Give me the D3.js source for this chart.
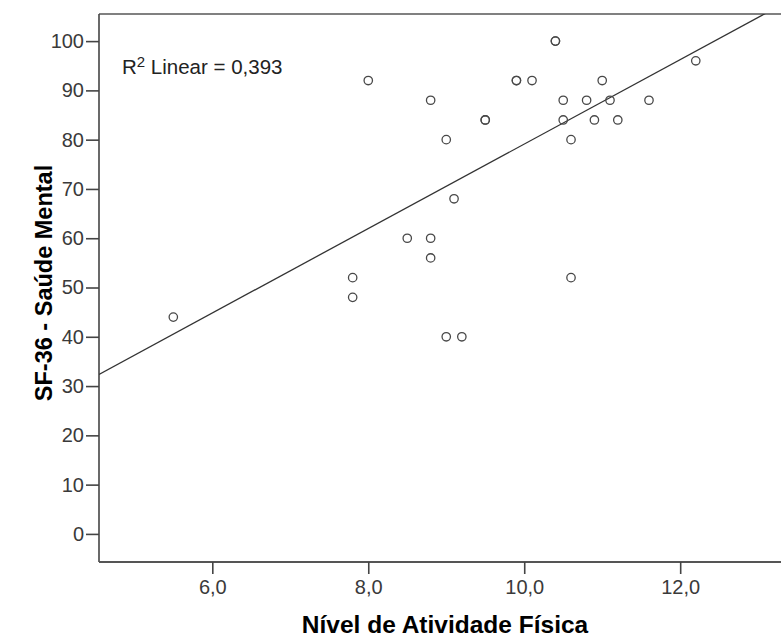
<!DOCTYPE html>
<html>
<head>
<meta charset="utf-8">
<script src="https://cdn.jsdelivr.net/npm/d3@7"></script>
<style>
  html, body { margin: 0; padding: 0; background: #fff; }
  svg { display: block; font-family: "Liberation Sans", Arial, sans-serif; }
</style>
</head>
<body>
<svg id="chart" width="781" height="637"></svg>
<script>
// ---- data ----
const activityLevel = [5.5, 7.8, 7.8, 8.0, 8.5, 8.8, 8.8, 8.8, 9.0, 9.0,
                       9.1, 9.2, 9.5, 9.5, 9.9, 9.9, 10.1, 10.4, 10.4, 10.5,
                       10.5, 10.6, 10.6, 10.8, 10.9, 11.0, 11.1, 11.2, 11.6, 12.2];
const mentalHealth  = [44, 52, 48, 92, 60, 88, 60, 56, 80, 40,
                       68, 40, 84, 84, 92, 92, 92, 100, 100, 88,
                       84, 80, 52, 88, 84, 92, 88, 84, 88, 96];
const xTickValues = [6, 8, 10, 12];
const yTickValues = [0, 10, 20, 30, 40, 50, 60, 70, 80, 90, 100];
const xTitle = "Nível de Atividade Física";
const yTitle = "SF-36 - Saúde Mental";

// ---- layout ----
const pLeft = 99, pRight = 780, pTop = 14, pBottom = 562;
const svg = d3.select("#chart");

const x = d3.scaleLinear().domain([4.547, 13.28]).range([pLeft, pRight]);
const y = d3.scaleLinear().domain([-5.7, 105.5]).range([pBottom, pTop]);

const commaFmt = d => d3.format(".1f")(d).replace(".", ",");

// clip
svg.append("defs").append("clipPath").attr("id", "plotClip")
  .append("rect").attr("x", pLeft).attr("y", pTop)
  .attr("width", pRight - pLeft).attr("height", pBottom - pTop);

// top frame line
svg.append("line").attr("x1", pLeft).attr("x2", 781).attr("y1", pTop).attr("y2", pTop)
  .attr("stroke", "#808080").attr("stroke-width", 2);

// y axis
const yAxis = svg.append("g").attr("transform", `translate(${pLeft},0)`)
  .call(d3.axisLeft(y).tickValues(yTickValues).tickSize(13).tickPadding(2).tickFormat(d3.format("d")));
yAxis.select(".domain").attr("d", `M0,${pTop}V${pBottom}`).attr("stroke", "#444").attr("stroke-width", 1.6);
yAxis.selectAll(".tick line").attr("stroke", "#444").attr("stroke-width", 1.6);
yAxis.selectAll(".tick text").attr("fill", "#3a3a3a").attr("font-size", 20)
  .attr("font-family", "Liberation Sans, Arial, sans-serif");

// x axis
const xAxis = svg.append("g").attr("transform", `translate(0,${pBottom})`)
  .call(d3.axisBottom(x).tickValues(xTickValues).tickSize(12).tickPadding(6).tickFormat(commaFmt));
xAxis.select(".domain").attr("d", `M${pLeft},0H781`).attr("stroke", "#555").attr("stroke-width", 1.8);
xAxis.selectAll(".tick line").attr("stroke", "#444").attr("stroke-width", 1.6);
xAxis.selectAll(".tick text").attr("fill", "#3a3a3a").attr("font-size", 20)
  .attr("font-family", "Liberation Sans, Arial, sans-serif");

// regression line computed from the data
const n = activityLevel.length;
const mx = d3.mean(activityLevel), my = d3.mean(mentalHealth);
let sxy = 0, sxx = 0, syy = 0;
for (let i = 0; i < n; i++) {
  const dx = activityLevel[i] - mx, dy = mentalHealth[i] - my;
  sxy += dx * dy; sxx += dx * dx; syy += dy * dy;
}
const slope = sxy / sxx, intercept = my - slope * mx;
const r2 = (sxy * sxy) / (sxx * syy);
const [d0, d1] = x.domain();
svg.append("g").attr("clip-path", "url(#plotClip)")
  .append("line")
  .attr("x1", x(d0)).attr("y1", y(intercept + slope * d0))
  .attr("x2", x(d1)).attr("y2", y(intercept + slope * d1))
  .attr("stroke", "#333").attr("stroke-width", 1.3);

// points
svg.append("g").selectAll("circle")
  .data(activityLevel.map((v, i) => [v, mentalHealth[i]]))
  .join("circle")
  .attr("cx", d => x(d[0])).attr("cy", d => y(d[1]))
  .attr("r", 4.2)
  .attr("fill", "none").attr("stroke", "#484848").attr("stroke-width", 1.3);

// R² label
const lab = svg.append("text").attr("x", 122).attr("y", 74)
  .attr("font-size", 20.5).attr("fill", "#222");
lab.append("tspan").text("R");
lab.append("tspan").attr("font-size", 15).attr("dy", -7).text("2");
lab.append("tspan").attr("dy", 7).text(" Linear = " + d3.format(".3f")(r2).replace(".", ","));

// axis titles
svg.append("text").attr("x", 445).attr("y", 633).attr("text-anchor", "middle")
  .attr("font-size", 24.5).attr("font-weight", "bold").attr("fill", "#000").text(xTitle);
svg.append("text").attr("transform", "translate(52,283) rotate(-90)").attr("text-anchor", "middle")
  .attr("font-size", 23.5).attr("font-weight", "bold").attr("fill", "#000").text(yTitle);
</script>
</body>
</html>
